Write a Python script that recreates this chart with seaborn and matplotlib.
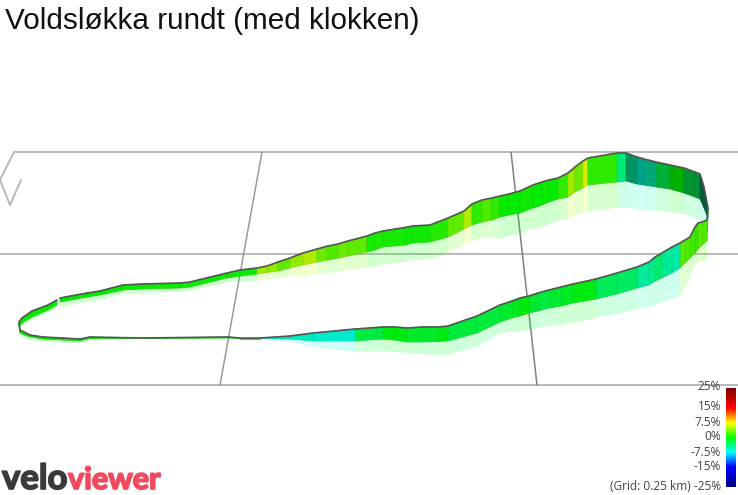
import numpy as np
import seaborn as sns
from matplotlib import patheffects
from matplotlib import pyplot as plt
from matplotlib.colors import LinearSegmentedColormap, Normalize

# Route stations, clockwise from the little gap on the western side.
route_x = [60, 87, 100, 123, 142, 180, 190, 227, 240, 257, 267, 278, 290, 303, 317, 328, 338, 348, 367, 375,
           383, 405, 413, 430, 448, 464, 472, 482, 492, 500, 509, 520, 533, 542, 549, 558, 568, 575, 583, 588,
           617, 626, 637, 644, 656, 670, 684, 695, 700, 704, 708,
           707, 702, 698, 695, 690, 685, 680, 672, 662, 655, 649, 637, 617, 596, 573, 561, 549, 538, 529, 520,
           512, 500, 477, 448, 438, 422, 407, 395, 383, 355, 313, 290, 260, 240, 228, 140, 90, 80, 62, 43,
           30, 20, 19, 22, 32, 48, 57]
top_y = [298, 293, 291, 285, 284, 283, 282, 273, 270, 268, 266, 262, 258, 253, 249, 246, 244, 241, 236, 233,
         231, 227.5, 226, 225, 218, 211, 204, 200, 198, 196, 194, 191, 185, 182, 180, 178, 173, 167, 161, 158,
         153, 153, 157, 159, 162, 165, 168, 172, 174, 187, 208,
         220, 222, 223, 227, 237, 240, 243, 247, 253, 257, 262, 267, 273, 279, 284, 287, 290, 293, 296, 298,
         301, 305, 316, 326, 327, 327, 328, 327, 327, 329, 333, 336, 338, 338, 337, 338, 337, 339, 338, 337,
         335, 330, 322, 318, 311, 305, 300]
mid_y = [302, 297, 295, 290, 289, 288, 287, 278, 276, 274, 272.5, 271, 268, 265, 262, 260, 258, 256, 252, 250,
         247, 245, 243, 242, 237, 229, 225, 222, 220, 217, 215, 213, 208, 205, 202, 199, 197, 192, 188, 185,
         182, 181, 184, 185, 187, 189, 193, 197, 199, 208, 218,
         241, 245, 249, 253, 258, 263, 268, 273, 278, 281, 285, 288, 294, 299, 303, 306, 308, 311, 313, 316,
         318, 322, 333, 341, 341.5, 342, 342, 340, 339, 341, 341, 339, 338.5, 338.5, 338, 338.5, 338.5, 341, 340, 339,
         337, 333, 327, 323, 317, 310, 305]
base_y = [307, 302, 300, 294, 293, 292, 291, 282, 281, 281, 279, 278, 276, 277, 274, 273, 272, 270, 268, 266,
          265, 262, 260, 259, 253, 245, 241, 238, 237, 239, 236, 233, 229, 227, 224, 221, 219, 216, 213, 211,
          208, 208, 209, 210, 211, 212, 214, 218, 220, 222, 224,
          260, 261, 262, 263, 277, 287, 296, 299, 302, 305, 307, 309, 314, 318, 323, 325, 326, 328, 330, 331,
          332, 333, 347, 355, 355, 354, 353, 352, 351, 352, 347, 342, 339, 339, 338.5, 339, 340, 343, 343, 342,
          340, 336, 331, 326, 320, 313, 308]
# Gradient (%) of the stretch leaving each station.
grades = [0, 0, 0, 0.3, 0.3, 0.3, 0.3, 0.3, 0.3, 5, 4.5, 3, 4.5, 5.5, 3.5, 2.5, 3.5, 3, 0.6, 0.8,
          0.6, 0.5, 0.4, 1, 3, 5.5, 1.5, 2.5, 1.5, 0.1, 0, 0.5, 0, 0.3, 0, 1.5, 5, 3.5, 7, 1.5,
          -3.75, -4.8, -6.6, -5.3, -2.5, 0, -2.5, -2.8, -4.8, -5.2, 1.3,
          2.5, 3, 1.5, 2, 2.5, 3, -5.3, -4.7, -3.5, -4.4, -5, -3, -2.8, -0.5, -1, -1.5, -2, -1.5, -0.3, -0.8,
          -1.5, -1.8, -1.8, -0.6, -1.5, -1.2, -0.5, -0.5, -2, -6.5, -6, -5.5, 0, 0, 0, 0, 0, 0, 0, 0,
          0, 0, 0, 0, 0, 0]

legend_labels = ["25%", "15%", "7.5%", "0%", "-7.5%", "-15%", "(Grid: 0.25 km) -25%"]
legend_rows = [386, 407, 422, 437, 452, 467, 486]

sns.set_theme(style="white")
plt.rcParams["font.family"] = ["Liberation Sans", "DejaVu Sans"]

grade_cmap = LinearSegmentedColormap.from_list(
    "grade",
    [(0.0, "#000080"), (0.2, "#0000ff"), (0.35, "#00ffff"), (0.5, "#00ff00"),
     (0.65, "#ffff00"), (0.8, "#ff0000"), (1.0, "#800000")],
)
norm = Normalize(-25, 25)


def _light(dx: float, dy: float) -> float:
    # Faces turned away from the viewer's light get darker.
    if dx <= 0 or dy <= 0:
        return 0.92
    return 0.92 - 0.56 * (1 - np.exp(-2.5 * dy / dx))


fig = plt.figure(figsize=(7.38, 4.95), dpi=100)
ax = fig.add_axes([0, 0, 1, 1])

grid_h = "#b9b9b9"
grid_v = "#9a9a9a"
ax.plot([14, 738], [152, 152], color=grid_h, lw=1.4)
ax.plot([0, 738], [254, 254], color=grid_h, lw=1.4)
ax.plot([0, 738], [385, 385], color=grid_h, lw=1.4)
ax.plot([262, 220], [152, 385], color=grid_v, lw=1.1)
ax.plot([511, 537], [152, 385], color="#808080", lw=1.1)
ax.plot([14, 0, 10, 21], [152, 180, 205, 180], color=grid_h, lw=1.4)

for i, grade in enumerate(grades):
    xs = [route_x[i], route_x[i + 1], route_x[i + 1], route_x[i]]
    ax.fill(xs, [mid_y[i], mid_y[i + 1], base_y[i + 1], base_y[i]],
            color=grade_cmap(norm(grade)), alpha=0.19, lw=0, zorder=2)

for i, grade in enumerate(grades):
    xs = [route_x[i], route_x[i + 1], route_x[i + 1], route_x[i]]
    rgb = np.array(grade_cmap(norm(grade))[:3]) * _light(route_x[i + 1] - route_x[i], top_y[i + 1] - top_y[i])
    ax.fill(xs, [top_y[i], top_y[i + 1], mid_y[i + 1], mid_y[i]],
            facecolor=rgb, edgecolor=rgb * 0.92, lw=0.5, zorder=3)

sns.lineplot(x=route_x, y=top_y, sort=False, estimator=None, color="#555555", lw=1.2, ax=ax, zorder=4)

ax.set_xlim(0, 738)
ax.set_ylim(495, 0)
ax.axis("off")

ax.text(5, 29, "Voldsløkka rundt (med klokken)", fontsize=21.4, color="#111111", va="baseline", ha="left")

for label, row in zip(legend_labels, legend_rows):
    ax.text(721, row, label, fontsize=8.6, color="#444444", ha="right", va="center", family=["Open Sans", "DejaVu Sans"])

# Logo, thickened with a stroke since Lato tops out at bold here.
ax.text(2, 489, "velo", fontsize=25, fontweight="bold", color="#3a3a3a", family="Lato", va="baseline",
        path_effects=[patheffects.withStroke(linewidth=1.2, foreground="#3a3a3a")])
ax.text(68, 489, "viewer", fontsize=22, fontweight="bold", color="#f2495f", family="Lato", va="baseline",
        path_effects=[patheffects.withStroke(linewidth=1.2, foreground="#f2495f")])

bar_ax = fig.add_axes([726 / 738, 1 - 487 / 495, 10 / 738, 99 / 495])
sns.heatmap(np.linspace(25, -25, 200)[:, None], cmap=grade_cmap, vmin=-25, vmax=25, cbar=False,
            xticklabels=False, yticklabels=False, ax=bar_ax)

fig.savefig("out.png", dpi=100)
